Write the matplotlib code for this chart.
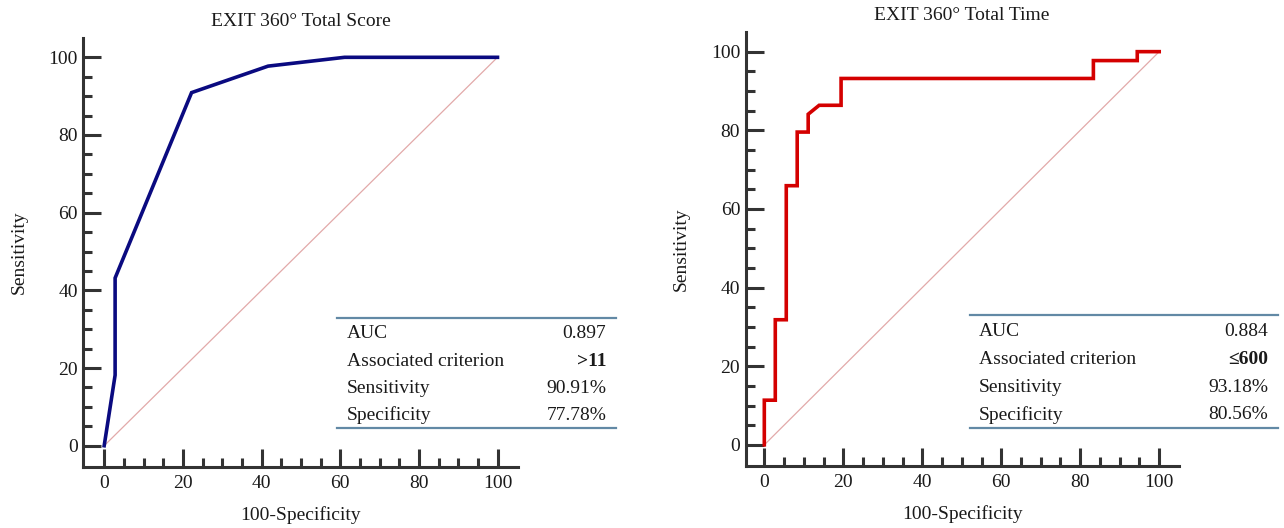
import numpy as np
import matplotlib.pyplot as plt
from matplotlib.ticker import FixedLocator

plt.rcParams['font.family'] = ['Liberation Serif', 'DejaVu Serif']

# ROC curves: 100-Specificity (x) vs Sensitivity (y)
score_fpr = [0, 2.78, 2.78, 22.22, 41.67, 61.11, 100]
score_tpr = [0, 18.18, 43.18, 90.91, 97.73, 100, 100]

time_fpr = [0, 0, 2.78, 2.78, 5.56, 5.56, 8.33, 8.33, 11.11, 11.11,
            13.89, 19.44, 19.44, 83.33, 83.33, 94.44, 94.44, 100]
time_tpr = [0, 11.36, 11.36, 31.82, 31.82, 65.91, 65.91, 79.55, 79.55, 84.09,
            86.36, 86.36, 93.18, 93.18, 97.73, 97.73, 100, 100]

stat_names = ["AUC", "Associated criterion", "Sensitivity", "Specificity"]
score_stats = ["0.897", ">11", "90.91%", "77.78%"]
time_stats = ["0.884", "≤600", "93.18%", "80.56%"]

titles = ["EXIT 360° Total Score", "EXIT 360° Total Time"]

TXT = '#1a1a1a'
AX = '#333333'


def draw_panel(ax, fpr, tpr, color, title, stats, xlim, ylim, tbl):
    ax.plot([0, 100], [0, 100], color='#e2a9a9', lw=0.9, zorder=1)
    ax.plot(fpr, tpr, color=color, lw=2.6, zorder=3, solid_joinstyle='miter')
    ax.set_xlim(*xlim)
    ax.set_ylim(*ylim)
    for s in ['top', 'right']:
        ax.spines[s].set_visible(False)
    for s in ['left', 'bottom']:
        ax.spines[s].set_linewidth(2.2)
        ax.spines[s].set_color(AX)
    major = np.arange(0, 101, 20)
    minor = [v for v in range(0, 101, 5) if v % 20]
    for axis in (ax.xaxis, ax.yaxis):
        axis.set_major_locator(FixedLocator(major))
        axis.set_minor_locator(FixedLocator(minor))
    ax.tick_params(which='major', direction='in', length=13, width=2.2,
                   color=AX, labelsize=14, labelcolor=TXT)
    ax.tick_params(which='minor', direction='in', length=6.5, width=2.2, color=AX)
    ax.tick_params(axis='y', which='major', pad=4)
    ax.tick_params(axis='x', which='major', pad=6)
    ax.set_xlabel("100-Specificity", fontsize=14, color=TXT, labelpad=10)
    ax.set_ylabel("Sensitivity", fontsize=14, color=TXT, labelpad=15)
    ax.text(50, 109.3, title, ha='center', va='center', fontsize=14, color=TXT)

    # statistics table
    x0, x1, y_top, y_bot, tx_l, tx_r, rows = tbl
    for yy in (y_top, y_bot):
        ax.plot([x0, x1], [yy, yy], color='#6289a5', lw=1.6, clip_on=False, zorder=4)
    for i, (name, val) in enumerate(zip(stat_names, stats)):
        ax.text(tx_l, rows[i], name, ha='left', va='center', fontsize=14,
                color=TXT, clip_on=False)
        ax.text(tx_r, rows[i], val, ha='right', va='center', fontsize=14,
                color=TXT, clip_on=False,
                fontweight='bold' if i == 1 else 'normal')


fig = plt.figure(figsize=(12.84, 5.28), dpi=100)
ax1 = fig.add_axes([0.0649, 0.1161, 0.3388, 0.8114])
ax2 = fig.add_axes([0.5808, 0.1180, 0.3377, 0.8214])

draw_panel(ax1, score_fpr, score_tpr, '#0a0a80', titles[0], score_stats,
           (-5.3, 105.3), (-5.4, 104.9),
           (59.1, 130.2, 32.8, 4.6, 61.7, 127.7, [28.9, 21.6, 14.8, 7.9]))
draw_panel(ax2, time_fpr, time_tpr, '#d40000', titles[1], time_stats,
           (-4.7, 105.1), (-5.3, 105.0),
           (52.1, 130.0, 33.1, 4.4, 54.4, 127.6, [28.8, 21.6, 14.7, 7.6]))

fig.savefig("out.png", dpi=100)
